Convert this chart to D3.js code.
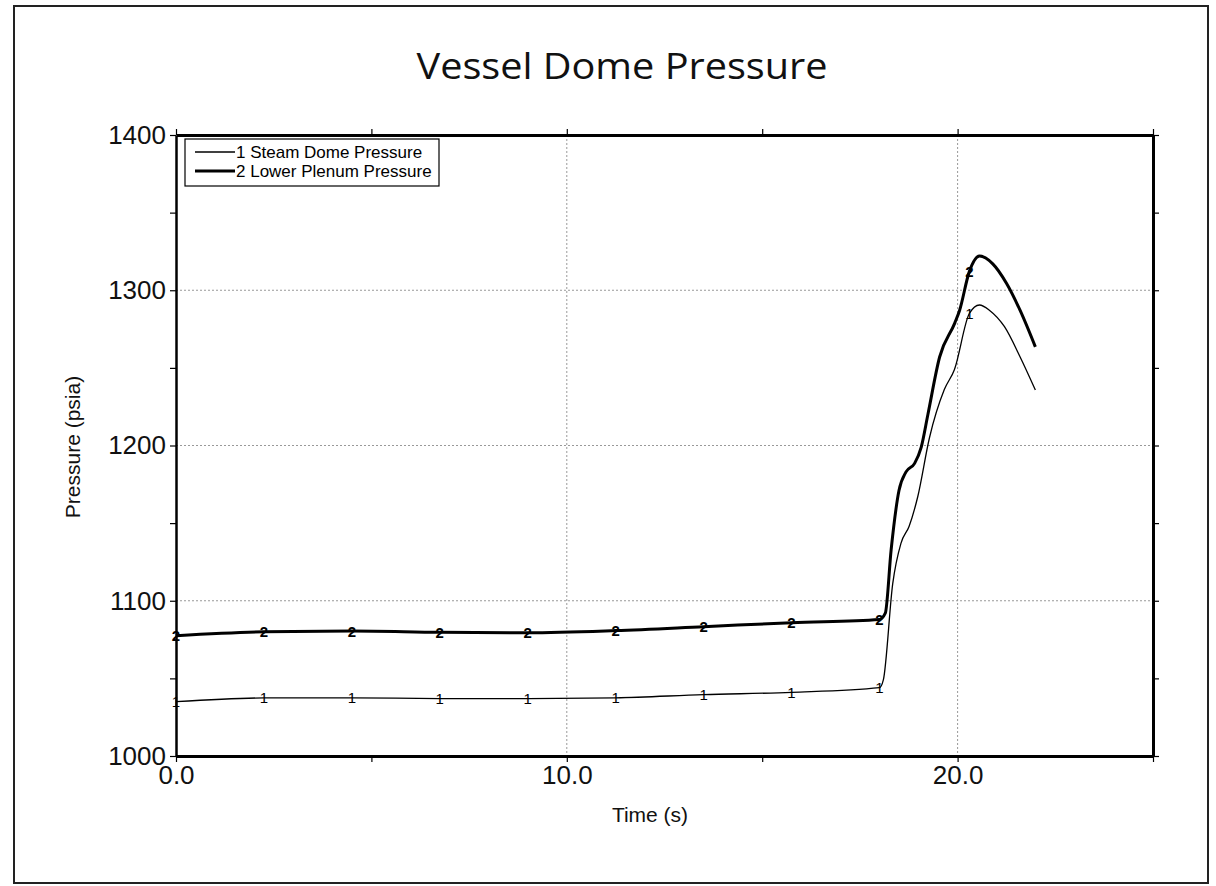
<!DOCTYPE html>
<html>
<head>
<meta charset="utf-8">
<script src="https://cdn.jsdelivr.net/npm/d3@7"></script>
<style>
  body { margin: 0; background: #fff; }
  svg text { font-family: "Liberation Sans", Arial, sans-serif; fill: #111; }
</style>
</head>
<body>
<div id="chart"></div>
<script>
// values
const steamTime = [0, 2.25, 4.5, 6.75, 9, 11.25, 13.5, 15.75, 18, 18.1, 18.34, 18.55, 18.76, 18.98, 19.28, 19.66, 19.92, 20.3, 20.56, 20.82, 21.2, 21.6, 21.99];
const steamPressure = [1035, 1037.4, 1037.5, 1037, 1037, 1037.5, 1039.5, 1041, 1044, 1049, 1111, 1137, 1148, 1167, 1205, 1236, 1249, 1285, 1290.5, 1287, 1276.5, 1257, 1235.7];

const plenumTime = [0, 2.25, 4.5, 6.75, 9, 11.25, 13.5, 15.75, 18, 18.15, 18.3, 18.5, 18.68, 18.9, 19.07, 19.24, 19.54, 19.93, 20.05, 20.3, 20.56, 20.9, 21.25, 21.6, 21.99];
const plenumPressure = [1077.5, 1080, 1080.5, 1079.7, 1079.4, 1080.8, 1083.3, 1085.9, 1088, 1092, 1133, 1171, 1183, 1188.5, 1199, 1220, 1257, 1279, 1287, 1312, 1322, 1317, 1304.5, 1287, 1263.5];

const markerTimes = [0, 2.25, 4.5, 6.75, 9, 11.25, 13.5, 15.75, 18, 20.3];

const xTicks = [0, 5, 10, 15, 20, 25];
const xTickLabels = ['0.0', '', '10.0', '', '20.0', ''];
const yTicks = [1000, 1050, 1100, 1150, 1200, 1250, 1300, 1350, 1400];
const yTickLabels = ['1000', '', '1100', '', '1200', '', '1300', '', '1400'];
const xGrid = [10, 20];
const yGrid = [1100, 1200, 1300];

const seriesNames = ['Steam Dome Pressure', 'Lower Plenum Pressure'];
const seriesMarks = ['1', '2'];

const width = 1216, height = 886;
const svg = d3.select('#chart').append('svg')
  .attr('width', width)
  .attr('height', height);

// outer frame
svg.append('rect')
  .attr('x', 14).attr('y', 6)
  .attr('width', 1194).attr('height', 877)
  .attr('fill', 'none')
  .attr('stroke', '#222')
  .attr('stroke-width', 2);

svg.append('text')
  .attr('x', 622).attr('y', 79)
  .attr('text-anchor', 'middle')
  .attr('textLength', 411)
  .attr('lengthAdjust', 'spacingAndGlyphs')
  .style('font-family', '"Open Sans", Lato, sans-serif')
  .style('font-size', '36px')
  .text('Vessel Dome Pressure');

const x = d3.scaleLinear().domain([0, 25]).range([176, 1153]);
const y = d3.scaleLinear().domain([1000, 1400]).range([756, 135]);

// grid
svg.selectAll('.gx').data(xGrid).enter().append('line')
  .attr('x1', d => x(d)).attr('x2', d => x(d))
  .attr('y1', y(1400)).attr('y2', y(1000))
  .attr('stroke', '#999').attr('stroke-width', 1)
  .attr('stroke-dasharray', '2,2');
svg.selectAll('.gy').data(yGrid).enter().append('line')
  .attr('x1', x(0)).attr('x2', x(25))
  .attr('y1', d => y(d)).attr('y2', d => y(d))
  .attr('stroke', '#999').attr('stroke-width', 1)
  .attr('stroke-dasharray', '2,2');

// axes on all four sides
const xBottom = d3.axisBottom(x).tickValues(xTicks).tickSize(6).tickSizeOuter(0)
  .tickFormat((d, i) => xTickLabels[i]);
const xTop = d3.axisTop(x).tickValues(xTicks).tickSize(6).tickSizeOuter(0).tickFormat('');
const yLeft = d3.axisLeft(y).tickValues(yTicks).tickSize(6).tickSizeOuter(0)
  .tickFormat((d, i) => yTickLabels[i]);
const yRight = d3.axisRight(y).tickValues(yTicks).tickSize(6).tickSizeOuter(0).tickFormat('');

const styleAxis = (g, w) => {
  g.select('.domain').attr('stroke', '#000').attr('stroke-width', w);
  g.selectAll('.tick line').attr('stroke', '#000').attr('stroke-width', 1.2);
  g.selectAll('.tick text')
    .style('font-family', '"Liberation Sans", Arial, sans-serif')
    .style('font-size', '26px')
    .attr('fill', '#111');
};

svg.append('g').attr('transform', `translate(0,${y(1000)})`).call(xBottom)
  .call(g => styleAxis(g, 3))
  .call(g => g.selectAll('.tick text').attr('dy', '0.85em').attr('y', 6));
svg.append('g').attr('transform', `translate(0,${y(1400)})`).call(xTop)
  .call(g => styleAxis(g, 3));
svg.append('g').attr('transform', `translate(${x(0)},0)`).call(yLeft)
  .call(g => styleAxis(g, 2.5))
  .call(g => g.selectAll('.tick text').attr('x', -10));
svg.append('g').attr('transform', `translate(${x(25)},0)`).call(yRight)
  .call(g => styleAxis(g, 3));

// axis titles
svg.append('text')
  .attr('x', 650).attr('y', 822)
  .attr('text-anchor', 'middle')
  .style('font-size', '21px')
  .text('Time (s)');
svg.append('text')
  .attr('transform', 'translate(80,447) rotate(-90)')
  .attr('text-anchor', 'middle')
  .style('font-size', '21px')
  .text('Pressure (psia)');

const series = [
  { mark: seriesMarks[0], name: seriesNames[0], width: 1.3,
    points: steamTime.map((t, i) => ({ t, v: steamPressure[i] })) },
  { mark: seriesMarks[1], name: seriesNames[1], width: 3,
    points: plenumTime.map((t, i) => ({ t, v: plenumPressure[i] })) }
];

const line = d3.line()
  .x(d => x(d.t))
  .y(d => y(d.v))
  .curve(d3.curveMonotoneX);

series.forEach(s => {
  svg.append('path')
    .datum(s.points)
    .attr('fill', 'none')
    .attr('stroke', '#000')
    .attr('stroke-width', s.width)
    .attr('stroke-linejoin', 'round')
    .attr('d', line);

  svg.selectAll(null)
    .data(s.points.filter(p => markerTimes.includes(p.t)))
    .enter().append('text')
    .attr('x', d => x(d.t))
    .attr('y', d => y(d.v))
    .attr('text-anchor', 'middle')
    .attr('dominant-baseline', 'central')
    .style('font-size', '15px')
    .style('fill', '#000')
    .style('font-weight', s.width > 2 ? 'bold' : 'normal')
    .text(s.mark);
});

// legend
const legend = svg.append('g');
legend.append('rect')
  .attr('x', 185).attr('y', 139)
  .attr('width', 254).attr('height', 47)
  .attr('fill', '#fff')
  .attr('stroke', '#000')
  .attr('stroke-width', 1.2);

series.forEach((s, i) => {
  const ly = 152 + i * 19;
  legend.append('line')
    .attr('x1', 195).attr('x2', 235)
    .attr('y1', ly).attr('y2', ly)
    .attr('stroke', '#000')
    .attr('stroke-width', s.width);
  legend.append('text')
    .attr('x', 236).attr('y', ly + 6)
    .style('font-size', '17px')
    .style('fill', '#000')
    .text(`${s.mark} ${s.name}`);
});
</script>
</body>
</html>
